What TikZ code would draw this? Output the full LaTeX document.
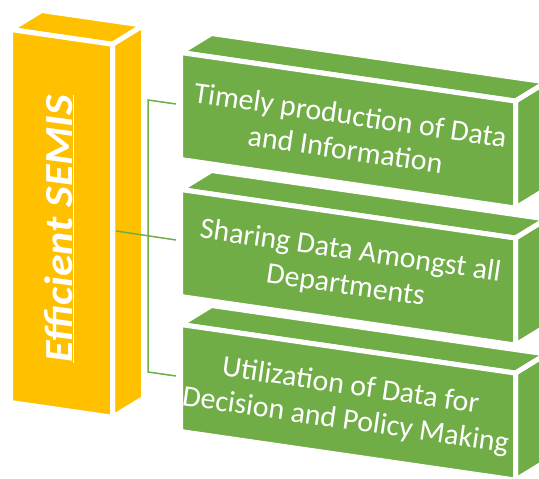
\documentclass[tikz,border=0pt]{standalone}
\usepackage{fontspec}
\setmainfont{Carlito}
\definecolor{semisyellow}{HTML}{FFC000}
\definecolor{semisgreen}{HTML}{70AD47}
% #1 colour, #2 x, #3 y (front top-left), #4 width, #5 height
\newcommand\drawprism[5]{%
  \filldraw[face, fill=#1] (#2,#3) -- ++(#4,0.145*#4) -- ++(31,-19) -- ++(-#4,-0.145*#4) -- cycle;
  \filldraw[face, fill=#1] (#2+#4,#3+0.145*#4) -- ++(31,-19) -- ++(0,#5) -- ++(-31,19) -- cycle;
  \filldraw[face, fill=#1] (#2,#3) -- ++(#4,0.145*#4) -- ++(0,#5) -- ++(-#4,-0.145*#4) -- cycle;
}
\begin{document}
\begin{tikzpicture}[x=1bp,y=-1bp,
  face/.style={draw=white, line width=5bp, line join=miter},
  conn/.style={draw=semisgreen, line width=1.5bp},
  greentext/.style={text=white, rotate=-8.25, align=center, inner sep=0pt,
    font=\fontsize{30}{35}\selectfont},
  titletext/.style={text=white, rotate=90, anchor=base, inner sep=0pt,
    font=\fontsize{40}{44}\selectfont\bfseries\itshape}]
\useasboundingbox (0,0) rectangle (539,479);
\clip (0,0) rectangle (539,479);
% yellow column
\drawprism{semisyellow}{10.5}{29.5}{102}{373}
% green boxes
\drawprism{semisgreen}{180.5}{52.5}{335}{107}
\drawprism{semisgreen}{180.5}{189.5}{335}{107}
\drawprism{semisgreen}{180.5}{324.5}{335}{107}
% texts
\node[titletext] (semis) at (72,229) {\underline{\scalebox{1.1}[1]{Efficient SEMIS}}};
\node[greentext] (t1) at (348,132) {Timely production of Data\\and Information};
\node[greentext] (t2) at (348,269) {Sharing Data Amongst all\\Departments};
\node[greentext] (t3) at (348,404) {Utilization of Data for\\Decision and Policy Making};
% connector
\coordinate (ys) at (116,231);
\coordinate (jt) at (148,100);
\coordinate (jb) at (148,372);
\coordinate (e1) at (176,104);
\coordinate (e2) at (176,240);
\coordinate (e3) at (176,376);
\draw[conn] (e1) -- (jt) -- (jb) -- (e3);
\draw[conn] (ys) -- (e2);
\end{tikzpicture}
\end{document}
